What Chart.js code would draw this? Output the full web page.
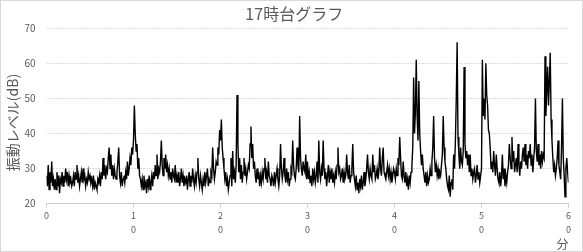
<!DOCTYPE html>
<html>
<head>
<meta charset="utf-8">
<script src="https://cdn.jsdelivr.net/npm/chart.js@4"></script>
<style>
  html, body { margin: 0; padding: 0; background: #fff; }
  #wrap { width: 583px; height: 252px; position: relative; }
</style>
</head>
<body>
<div id="wrap"><canvas id="chart"></canvas></div>
<script>
const chartTitle = "17時台グラフ";
const yTitle = "振動レベル(dB)";
const xTitle = "分";
const yTicks = [20, 30, 40, 50, 60, 70];
const xTicks = [0, 10, 20, 30, 40, 50, 60];

// vibration level (dB) every 0.1 min, one row per minute
const min00 = [
  28,25,31,24,29,26,32,25,27,24, 27,24,29,25,28,23,27,26,29,25,
  28,26,30,27,29,25,28,26,27,25, 26,28,25,29,27,31,26,28,25,27,
  29,26,30,27,28,25,27,26,29,27, 28,26,27,25,28,24,26,25,24,27,
  26,28,25,29,27,33,28,31,27,30, 29,33,36,30,34,28,31,27,30,28,
  27,29,32,36,28,26,29,25,27,28, 26,29,27,32,28,30,33,31,36,34
];
const min10 = [
  38,48,40,35,37,30,33,28,27,25, 27,24,28,25,26,23,27,25,28,24,
  26,28,25,29,27,31,28,34,27,30, 29,32,38,31,28,33,30,34,29,31,
  28,30,27,29,26,30,28,27,31,26, 28,26,29,25,27,30,26,28,25,27,
  26,28,24,27,29,25,28,26,30,27, 25,28,26,29,33,27,25,28,26,24,
  27,25,29,26,28,30,25,27,26,29, 28,36,30,27,29,32,31,36,34,41
];
const min20 = [
  38,44,36,33,30,27,29,25,27,24, 26,28,33,25,35,27,29,26,31,51,
  37,29,33,27,31,26,29,33,28,30, 27,29,31,30,37,42,33,37,30,32,
  28,26,30,27,29,25,28,26,29,27, 30,33,27,29,26,32,28,27,25,28,
  27,25,29,26,28,30,27,25,28,37, 30,27,29,33,28,26,30,27,29,25,
  27,30,29,38,31,28,27,30,36,31, 29,45,33,30,28,32,30,29,34,27
];
const min30 = [
  32,27,29,26,28,25,30,27,29,26, 28,32,26,38,29,27,30,28,38,30,
  27,29,25,28,31,26,29,27,30,26, 28,26,29,27,31,36,29,30,27,28,
  30,26,29,27,28,34,29,27,31,26, 28,30,37,29,27,25,28,24,26,23,
  27,25,28,24,26,29,25,27,30,34, 29,27,30,28,27,34,29,31,27,28,
  30,27,29,36,30,28,33,36,29,28, 27,29,31,28,30,27,29,26,28,30
];
const min40 = [
  29,27,30,28,33,31,39,33,28,27, 32,28,26,29,25,27,24,28,26,29,
  31,36,56,40,46,61,45,38,55,40, 35,31,34,30,28,26,29,25,28,26,
  27,30,28,32,36,45,33,29,31,28, 30,27,29,28,31,34,45,36,32,30,
  27,25,24,28,22,26,27,24,34,30, 38,50,66,39,34,30,36,32,31,35,
  59,37,33,35,31,34,29,34,28,30, 27,29,30,26,28,31,27,29,26,28
];
const min50 = [
  30,61,45,50,44,60,51,48,41,40, 36,30,32,29,35,31,28,34,30,27,
  26,29,25,28,34,27,30,25,28,26, 29,31,37,33,30,39,32,35,29,31,
  33,29,37,31,28,32,30,34,36,32, 37,31,34,30,35,33,37,31,34,29,
  33,36,50,35,32,37,31,34,30,35, 32,34,33,62,45,52,59,48,55,63,
  44,38,33,29,31,28,30,33,38,31, 29,27,36,50,33,28,22,30,33,29
];
const min60 = [26];

const levels = [].concat(min00, min10, min20, min30, min40, min50, min60);
const points = levels.map((v, i) => ({ x: i / 10, y: v }));

const FONT = "'Noto Sans CJK JP', 'Noto Sans', sans-serif";
const TXT = "#595959";

const frame = {
  id: "frame",
  afterDraw(chart) {
    const ctx = chart.ctx;
    ctx.save();
    ctx.strokeStyle = "#d9d9d9";
    ctx.lineWidth = 1;
    ctx.strokeRect(0.5, 0.5, chart.width - 1, chart.height - 1);
    // y axis title
    ctx.fillStyle = TXT;
    ctx.font = "14px " + FONT;
    ctx.translate(13, 122.5);
    ctx.rotate(-Math.PI / 2);
    ctx.textAlign = "center";
    ctx.textBaseline = "middle";
    ctx.fillText(yTitle, 0, 0);
    ctx.restore();
  }
};

new Chart(document.getElementById("chart"), {
  type: "line",
  data: { datasets: [{ data: points, borderColor: "#000", borderWidth: 1.4, pointRadius: 0, tension: 0, fill: false }] },
  options: {
    responsive: true, maintainAspectRatio: false, animation: false,
    layout: { padding: { left: 20, right: 14.5, top: 0, bottom: 0 } },
    plugins: {
      legend: { display: false },
      tooltip: { enabled: false },
      title: { display: true, text: chartTitle, color: TXT, font: { family: FONT, size: 16, weight: "normal" }, padding: { top: 4.6, bottom: 4.5 } }
    },
    scales: {
      x: {
        type: "linear", min: 0, max: 60,
        afterBuildTicks: s => { s.ticks = xTicks.map(v => ({ value: v })); },
        ticks: { color: TXT, font: { family: FONT, size: 9, lineHeight: 1.55 }, padding: 1, maxRotation: 0, autoSkip: false,
          callback: v => v === 0 ? "0" : String(v).split("") },
        grid: { drawOnChartArea: false, drawTicks: true, tickLength: 4, color: "#d0d0d0" },
        border: { display: true, color: "#c8c8c8" },
        title: { display: true, text: xTitle, align: "end", color: TXT, font: { family: FONT, size: 12 }, padding: 0 }
      },
      y: {
        min: 20, max: 70,
        afterBuildTicks: s => { s.ticks = yTicks.map(v => ({ value: v })); },
        afterFit: s => { s.width = 26.5; },
        ticks: { color: TXT, font: { family: FONT, size: 10 }, padding: 11 },
        grid: { drawTicks: false, color: "#dcdcdc" },
        border: { display: false, dash: [2, 1] }
      }
    }
  },
  plugins: [frame]
});
</script>
</body>
</html>
